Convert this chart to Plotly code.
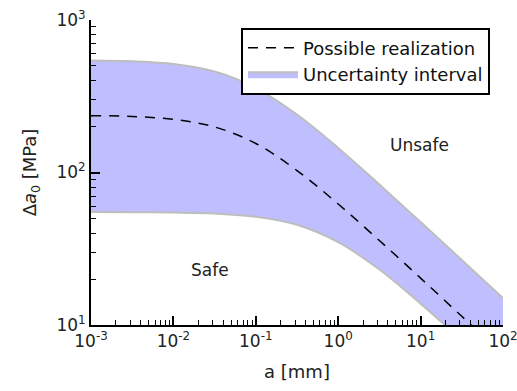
import plotly.graph_objects as go

# crack length a [mm]
a_mm = [0.001, 0.00316, 0.01, 0.0316, 0.1, 0.316, 1, 3.16, 10, 31.6, 100]
# uncertainty interval bounds [MPa]
upper = [543, 536, 514, 459, 358, 240, 145, 83.4, 47.3, 26.7, 15.0]
lower = [55.0, 54.9, 54.6, 53.8, 51.3, 45.4, 34.9, 23.1, 13.8, 7.97, 4.51]
# possible realization [MPa]
realization = [236, 233, 223, 199, 155, 103, 62.1, 35.8, 20.3, 11.4, 6.43]

x_tickvals = [0.001, 0.01, 0.1, 1, 10, 100]
x_ticktext = ["10<sup>-3</sup>", "10<sup>-2</sup>", "10<sup>-1</sup>",
              "10<sup>0</sup>", "10<sup>1</sup>", "10<sup>2</sup>"]
y_tickvals = [10, 100, 1000]
y_ticktext = ["10<sup>1</sup>", "10<sup>2</sup>", "10<sup>3</sup>"]

FONT = "DejaVu Sans"
fill_col = "rgb(191,191,255)"
edge_col = "rgb(190,190,190)"

fig = go.Figure()
fig.add_trace(go.Scatter(x=a_mm, y=realization, mode="lines",
                         name="Possible realization",
                         line=dict(color="black", width=1.5, dash="10px,8px", shape="spline")))
fig.add_trace(go.Scatter(x=a_mm, y=lower, mode="lines",
                         line=dict(color=edge_col, width=2, shape="spline"),
                         showlegend=False, hoverinfo="skip"))
fig.add_trace(go.Scatter(x=a_mm, y=upper, mode="lines", fill="tonexty",
                         fillcolor=fill_col, name="Uncertainty interval",
                         line=dict(color=edge_col, width=2, shape="spline")))
# redraw dashed line on top of the fill
fig.add_trace(go.Scatter(x=a_mm, y=realization, mode="lines", showlegend=False,
                         hoverinfo="skip",
                         line=dict(color="black", width=1.5, dash="10px,8px", shape="spline")))

fig.add_annotation(x=0.99, y=2.18, xref="x", yref="y", text="Unsafe", showarrow=False,
                   font=dict(family=FONT, size=17, color="#222"))
fig.add_annotation(x=-1.556, y=1.36, xref="x", yref="y", text="Safe", showarrow=False,
                   font=dict(family=FONT, size=17, color="#222"))

axis_common = dict(
    type="log", tickmode="array", showgrid=False, zeroline=False, automargin=False,
    showline=True, linecolor="black", linewidth=2, mirror=False,
    ticks="inside", ticklen=9, tickwidth=1.5, tickcolor="black",
    ticklabeloverflow="allow",
    minor=dict(ticks="inside", ticklen=5, tickwidth=1, tickcolor="black", showgrid=False, dtick="D1"),
    tickfont=dict(family=FONT, size=17, color="#222"),
)

fig.update_layout(
    width=517, height=391,
    margin=dict(l=91, r=14, t=20, b=66),
    paper_bgcolor="white", plot_bgcolor="white",
    xaxis=dict(range=[-3, 2], tickvals=x_tickvals, ticktext=x_ticktext,
               title=dict(text="a [mm]", font=dict(family=FONT, size=18, color="#222")),
               **axis_common),
    yaxis=dict(range=[1, 3], tickvals=y_tickvals, ticktext=y_ticktext,
               title=dict(text="Δ<i>a</i><sub>0</sub> [MPa]", font=dict(family=FONT, size=18, color="#222")),
               **axis_common),
    legend=dict(x=0.364, y=0.975, xanchor="left", yanchor="top", traceorder="normal",
                bordercolor="black", borderwidth=2, bgcolor="white",
                font=dict(family=FONT, size=18, color="#111"),
                tracegroupgap=0, itemwidth=50),
    showlegend=True,
)

fig.write_html("out.html")
